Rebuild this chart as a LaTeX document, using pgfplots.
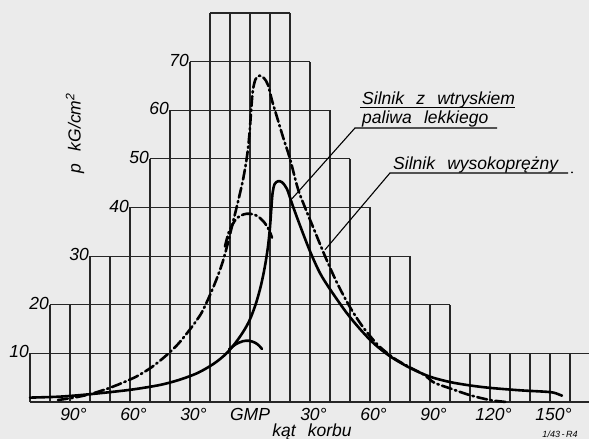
\documentclass[border=0pt]{standalone}
\usepackage{fontspec}
\setmainfont{Liberation Sans}
\usepackage{pgfplots}
\pgfplotsset{compat=1.18}
\usetikzlibrary{backgrounds}

\newcommand{\ws}{\hspace{0.7em}}
\newcommand{\degl}[1]{#1\makebox[0pt][l]{°}}
\tikzset{
  ylab/.style={anchor=east, inner sep=1pt},
  xlab/.style={anchor=base, inner sep=0pt},
}

\begin{document}
\begin{tikzpicture}[font=\fontsize{17.5}{19}\selectfont\itshape]
\begin{axis}[
    scale only axis,
    width=559pt, height=389pt,
    xmin=-110, xmax=169.5, ymin=0, ymax=80,
    axis lines=none, clip=false,
    unbounded coords=jump,
    gridl/.style={black!85, line width=1.2pt, mark=none},
    curve/.style={black, line width=2.6pt, mark=none, smooth, line cap=round},
    dashdot/.style={dash pattern=on 10pt off 3.5pt on 1.5pt off 3.5pt},
]
% stepped grid
\addplot[gridl] coordinates {
 (-110,0) (169.5,0) (0,nan)
 (-110,10) (169.5,10) (0,nan)
 (-100,20) (100,20) (0,nan)
 (-80,30) (80,30) (0,nan)
 (-60,40) (60,40) (0,nan)
 (-50,50) (50,50) (0,nan)
 (-40,60) (40,60) (0,nan)
 (-30,70) (30,70) (0,nan)
 (-20,80) (20,80)};
\addplot[gridl, ycomb] coordinates {
 (-110,10) (-100,20) (-90,20) (-80,30) (-70,30) (-60,40) (-50,50) (-40,60)
 (-30,70) (-20,80) (-10,80) (0,80) (10,80) (20,80) (30,70) (40,60) (50,50)
 (60,40) (70,30) (80,30) (90,20) (100,20) (110,10) (120,10) (130,10)
 (140,10) (150,10) (160,10)};

% light fuel injection engine (solid)
\addplot[curve] coordinates {
 (-110,0.9) (-95,1.1) (-80,1.6) (-60,2.5) (-45,3.5) (-35,4.6) (-26,6)
 (-18,7.9) (-12,9.9) (-7,12.3) (-3,14.7) (0,17) (3,20.3) (5.5,24) (7.5,28)
 (9,32) (10,36) (10.7,40) (11.3,43) (12.3,44.8) (14,45.4) (16,45.2)
 (18.5,43.8) (21,40.8) (25,36.3) (30,31) (35,26.5) (40,23.2) (48,18.5)
 (55,15) (62,12) (70,9.4) (80,7) (90,5.2) (100,4.1) (110,3.4) (120,2.9)
 (135,2.4) (148,2.1) (152,1.9) (156,1.3)};
\addplot[curve] coordinates {
 (-10.5,10.8) (-7,11.9) (-3.5,12.5) (-0.5,12.6) (2.5,12.2) (4.5,11.6) (6,10.9)};

% high-compression engine (dash-dot)
\addplot[curve, dashdot] coordinates {
 (-96,0.4) (-88,0.9) (-80,1.6) (-71.5,2.7) (-64,3.9) (-56.5,5.3) (-49,7.2)
 (-41.5,9.7) (-36,11.9) (-31,14.4) (-27,16.6) (-24,18.5) (-20,22)
 (-16.5,25.5) (-13.5,29) (-11,32.8) (-8.5,37) (-6,41.2) (-3.5,45.7)
 (-1.5,50.5) (-0.3,55) (0.6,60) (1.4,64) (2.8,66.4) (4.8,67.1) (7,66.6)
 (9,65.2) (11,62) (13.5,58.6) (16.5,54.5) (20,50) (24,43.8) (28,39.5)
 (31.5,36) (37.5,30) (43.5,24.5) (50,19.5) (56.5,15.4) (64,11.7) (72,9)
 (80,7.1) (87,5.6) (92,4) (100,2.8) (110,1.4) (120,0.4) (128,0)};
\addplot[curve, dashdot] coordinates {
 (-12.5,32) (-10.5,35) (-7,37.6) (-3,38.6) (0,38.7) (3.5,38.3) (7,37)
 (9.5,35.4) (11,33.8)};

% y labels
\node[ylab] at (axis cs:-110,10.3) {10};
\node[ylab] at (axis cs:-100,20.3) {20};
\node[ylab] at (axis cs:-80,30.3) {30};
\node[ylab] at (axis cs:-60,40.3) {40};
\node[ylab] at (axis cs:-50,50.3) {50};
\node[ylab] at (axis cs:-40,60.3) {60};
\node[ylab] at (axis cs:-30,70.3) {70};
\node[rotate=90] at (axis cs:-87.5,55.3) {p\ws kG/cm\textsuperscript{2}};

% x labels
\node[xlab] at (axis cs:-90,-3.8) {\degl{90}};
\node[xlab] at (axis cs:-60,-3.8) {\degl{60}};
\node[xlab] at (axis cs:-30,-3.8) {\degl{30}};
\node[xlab] at (axis cs:0,-3.8) {GMP};
\node[xlab] at (axis cs:30,-3.8) {\degl{30}};
\node[xlab] at (axis cs:60,-3.8) {\degl{60}};
\node[xlab] at (axis cs:90,-3.8) {\degl{90}};
\node[xlab] at (axis cs:120,-3.8) {\degl{120}};
\node[xlab] at (axis cs:150,-3.8) {\degl{150}};
\node[xlab] at (axis cs:31,-7.1) {kąt\ws korbu};
\node[xlab, font=\fontsize{9}{10}\selectfont\itshape] at (axis cs:155,-7.3) {1/43\,-\,R4};

% annotations
\node[anchor=base west, inner sep=0pt] at (axis cs:56,61.2) {Silnik\ws z\ws wtryskiem};
\node[anchor=base west, inner sep=0pt] at (axis cs:56,57.2) {paliwa\ws lekkiego};
\node[anchor=base west, inner sep=0pt] at (axis cs:71.5,47.8) {Silnik\ws wysokoprężny};
\draw[black, line width=1.1pt] (axis cs:55,60.6) -- (axis cs:132.5,60.6);
\draw[black, line width=1.1pt] (axis cs:21,41.8) -- (axis cs:52.5,56.35) -- (axis cs:123.5,56.35);
\draw[black, line width=1.1pt] (axis cs:37.5,31.3) -- (axis cs:70,47.1) -- (axis cs:159,47.1);
\fill[black] (axis cs:161,47.2) circle (1pt);

\coordinate (bbSW) at (axis cs:-125,-7.6);
\coordinate (bbNE) at (axis cs:169.5,82.67);
\end{axis}
\begin{scope}[on background layer]
\fill[black!8] (bbSW) rectangle (bbNE);
\end{scope}
\pgfresetboundingbox
\useasboundingbox (bbSW) rectangle (bbNE);
\end{tikzpicture}
\end{document}
